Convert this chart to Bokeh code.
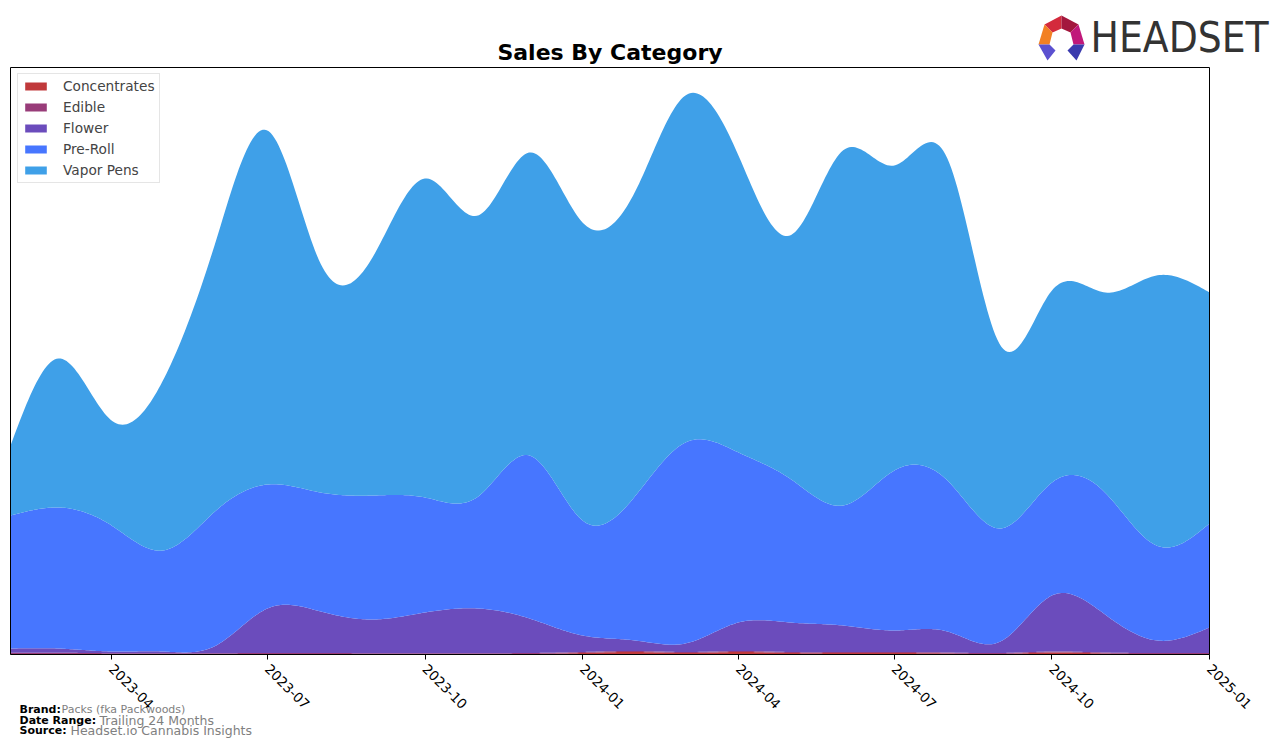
import numpy as np
import pandas as pd
from bokeh.plotting import figure
from bokeh.models import (Range1d, FixedTicker, Label, PolyAnnotation, Legend, LegendItem,
                          DatetimeAxis, LinearAxis)
from bokeh.embed import file_html
from bokeh.resources import INLINE

months = ["2023-02", "2023-03", "2023-04", "2023-05", "2023-06", "2023-07", "2023-08", "2023-09",
          "2023-10", "2023-11", "2023-12", "2024-01", "2024-02", "2024-03", "2024-04", "2024-05",
          "2024-06", "2024-07", "2024-08", "2024-09", "2024-10", "2024-11", "2024-12", "2025-01"]
categories = ["Concentrates", "Edible", "Flower", "Pre-Roll", "Vapor Pens"]
colors = ["#C0393B", "#983C79", "#6B4CBC", "#4776FF", "#3FA0E8"]

concentrates = [0.3, 0.3, 0.3, 0.3, 0.3, 0.5, 0.5, 0.3, 0.3, 0.3, 0.5, 1.5,
                2.5, 1.5, 2.5, 1.5, 1.5, 1.5, 1.0, 0.5, 2.0, 1.0, 0.5, 0.5]
edible = [1.5, 1.5, 1.0, 1.0, 1.0, 1.0, 1.0, 1.0, 1.0, 1.0, 1.0, 1.0,
          1.0, 1.0, 1.0, 1.0, 1.0, 1.0, 1.0, 1.0, 1.0, 1.0, 1.0, 1.0]
flower = [4.2, 4.2, 1.7, 1.7, 7.7, 44.5, 41.5, 33.7, 40.7, 44.7, 34.5, 16.5,
          10.5, 8.5, 28.5, 29.5, 26.5, 21.5, 21.0, 11.5, 56.0, 38.0, 12.5, 25.5]
pre_roll = [133, 141, 126, 101, 135, 124, 119, 124, 115, 112, 163, 115,
            145, 201, 170, 144, 120, 160, 151, 113, 113, 122, 95, 104]
vapor_pens = [70, 149, 105, 170, 270, 354, 229, 240, 319, 281, 303, 298,
              305, 347, 297, 243, 355, 305, 322, 183, 192, 200, 270, 231]

tick_labels = ["2023-04", "2023-07", "2023-10", "2024-01", "2024-04", "2024-07", "2024-10", "2025-01"]
y_max = 587  # top of the value axis

series = [concentrates, edible, flower, pre_roll, vapor_pens]


def natural_spline(x, y, xs):
    x = np.asarray(x, float)
    y = np.asarray(y, float)
    n = len(x)
    h = np.diff(x)
    A = np.zeros((n, n))
    b = np.zeros(n)
    A[0, 0] = 1.0
    A[-1, -1] = 1.0
    for i in range(1, n - 1):
        A[i, i - 1] = h[i - 1]
        A[i, i] = 2 * (h[i - 1] + h[i])
        A[i, i + 1] = h[i]
        b[i] = 6 * ((y[i + 1] - y[i]) / h[i] - (y[i] - y[i - 1]) / h[i - 1])
    M = np.linalg.solve(A, b)
    idx = np.clip(np.searchsorted(x, xs) - 1, 0, n - 2)
    x0, x1 = x[idx], x[idx + 1]
    hh = x1 - x0
    t0 = x1 - xs
    t1 = xs - x0
    return (M[idx] * t0 ** 3 / (6 * hh) + M[idx + 1] * t1 ** 3 / (6 * hh)
            + (y[idx] / hh - M[idx] * hh / 6) * t0 + (y[idx + 1] / hh - M[idx + 1] * hh / 6) * t1)


dates = pd.to_datetime([m + "-01" for m in months])
xd = (dates - dates[0]).days.values.astype(float)
xs_days = np.linspace(xd[0], xd[-1], 600)
xs_dt = dates[0] + pd.to_timedelta(xs_days, unit="D")
smoothed = [np.clip(natural_spline(xd, s, xs_days), 0, None) for s in series]

# Canvas and plotting-box placement (pixels)
W, H = 1276, 747
L, R, T, B = 10, 1209, 67, 654

d0 = dates[0].value / 1e6
d1 = dates[-1].value / 1e6
k = (d1 - d0) / (R - L)           # ms per pixel
ppu = (B - T) / y_max             # pixels per value unit
x_start, x_end = d0 - L * k, d0 + (W - L) * k
y_start, y_end = -(H - B) / ppu, B / ppu

p = figure(width=W, height=H, x_axis_location=None, y_axis_location=None,
           output_backend="svg", toolbar_location=None,
           x_range=Range1d(x_start, x_end), y_range=Range1d(y_start, y_end),
           min_border_left=0, min_border_right=0, min_border_top=0, min_border_bottom=0)
p.title.visible = False
p.background_fill_color = "white"
p.border_fill_color = "white"
p.outline_line_color = None
p.xgrid.visible = False
p.ygrid.visible = False

bottom = np.zeros_like(xs_days)
items = []
for name, col, sm in zip(categories, colors, smoothed):
    top = bottom + sm
    r = p.varea(x=xs_dt, y1=bottom.copy(), y2=top.copy(), fill_color=col, fill_alpha=1.0)
    items.append(LegendItem(label=name, renderers=[r]))
    bottom = top

tick_dates = pd.to_datetime([t + "-01" for t in tick_labels])
tick_ms = [float(d.value // 10**6) for d in tick_dates]
ax = DatetimeAxis(fixed_location=0, bounds=(d0, d1))
ax.ticker = FixedTicker(ticks=tick_ms)
ax.major_label_overrides = {ms: lab for ms, lab in zip(tick_ms, tick_labels)}
ax.major_label_orientation = -np.pi / 4
ax.major_label_standoff = 7
ax.major_label_text_font = "DejaVu Sans"
ax.major_label_text_font_size = "13.5px"
ax.major_label_text_color = "black"
ax.axis_line_color = "black"
ax.major_tick_line_color = "black"
ax.major_tick_out = 5
ax.major_tick_in = 0
ax.minor_tick_line_color = None
p.add_layout(ax, "below")

# remaining spines of the plotting box: plain axis lines without ticks or labels
spines = [(DatetimeAxis(fixed_location=y_max, bounds=(d0, d1)), "above"),
          (LinearAxis(fixed_location=d0, bounds=(0, y_max)), "left"),
          (LinearAxis(fixed_location=d1, bounds=(0, y_max)), "right")]
for sp, side in spines:
    sp.ticker = FixedTicker(ticks=[])
    sp.major_tick_line_color = None
    sp.minor_tick_line_color = None
    sp.major_label_text_font_size = "0px"
    sp.axis_line_color = "black"
    sp.axis_line_width = 1
    p.add_layout(sp, side)

legend = Legend(items=items, location=(17, H - 183))
legend.padding = 4
legend.spacing = 5
legend.glyph_width = 27
legend.glyph_height = 10
legend.label_height = 16
legend.label_standoff = 14
legend.label_text_font = "DejaVu Sans"
legend.label_text_font_size = "13.7px"
legend.border_line_color = "#cccccc"
legend.border_line_width = 1
legend.background_fill_alpha = 0.8
p.add_layout(legend)


def sy(v):
    return H - v


# Title
p.add_layout(Label(x=(L + R) / 2, y=sy(52), x_units="screen", y_units="screen",
                   text="Sales By Category", text_align="center", text_baseline="middle",
                   text_font="DejaVu Sans", text_font_style="bold", text_font_size="22px",
                   text_color="black"))

# Logo text
p.add_layout(Label(x=1090, y=sy(37), x_units="screen", y_units="screen",
                   text="HEADSET", text_align="left", text_baseline="middle",
                   text_font="'DejaVu Sans Condensed', Roboto", text_font_size="42px",
                   text_color="#333333"))

# Logo icon facets (page pixel coordinates)
facets = [
    ([1044, 1061, 1061, 1052], [24, 15, 28, 32], "#D42A3C"),
    ([1061, 1078, 1070, 1061], [15, 24, 32, 28], "#A3173D"),
    ([1078, 1084, 1073, 1070], [24, 44, 44, 32], "#C0187A"),
    ([1044, 1052, 1049, 1038], [24, 32, 44, 44], "#F28024"),
    ([1038, 1049, 1055, 1047], [44, 44, 50, 60], "#5B50D0"),
    ([1073, 1084, 1076, 1067], [44, 44, 60, 50], "#3A3AAE"),
]
for fx, fy, fc in facets:
    p.add_layout(PolyAnnotation(xs=fx, ys=[sy(v) for v in fy],
                                xs_units="screen", ys_units="screen",
                                fill_color=fc, fill_alpha=1.0, line_color=None))

# Footer
footer = [("Brand:", "Packs (fka Packwoods)", 709, 61, "11px"),
          ("Date Range:", "Trailing 24 Months", 720, 99, "12.5px"),
          ("Source:", "Headset.io Cannabis Insights", 730, 70, "12.5px")]
for lab, val, yy, vx, vsize in footer:
    p.add_layout(Label(x=19, y=sy(yy), x_units="screen", y_units="screen", text=lab,
                       text_baseline="middle", text_font="DejaVu Sans", text_font_style="bold",
                       text_font_size="11px", text_color="black"))
    p.add_layout(Label(x=vx, y=sy(yy), x_units="screen", y_units="screen", text=val,
                       text_baseline="middle", text_font="DejaVu Sans",
                       text_font_size=vsize, text_color="#808080"))

open("out.html", "w").write(file_html(p, INLINE))
